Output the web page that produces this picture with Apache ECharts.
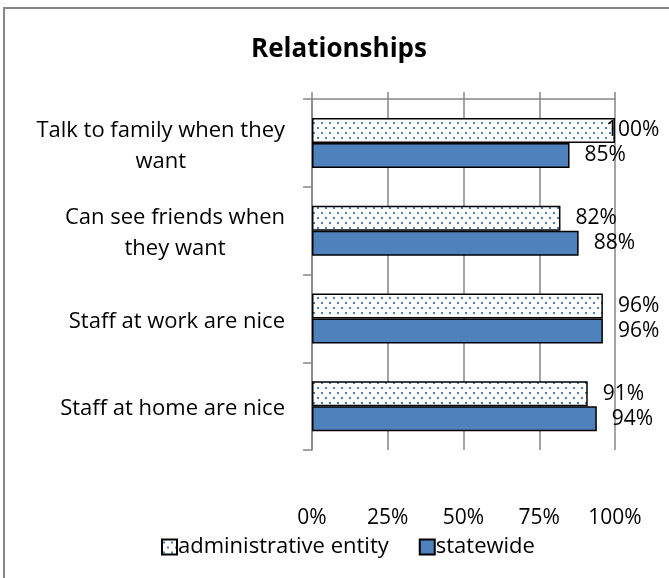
<!DOCTYPE html>
<html>
<head>
<meta charset="utf-8">
<script src="https://cdn.jsdelivr.net/npm/echarts@6/dist/echarts.min.js"></script>
<style>
html,body{margin:0;padding:0;background:#fff;}
#chart{width:669px;height:578px;}
</style>
</head>
<body>
<div id="chart"></div>
<script>
const title = 'Relationships';
const categories = ['Talk to family when they\nwant', 'Can see friends when\nthey want', 'Staff at work are nice', 'Staff at home are nice'];
const seriesNames = ['administrative entity', 'statewide'];
const adminValues = [100, 82, 96, 91];
const statewideValues = [85, 88, 96, 94];
const tickValues = [0, 25, 50, 75, 100];

const FONT = '"Open Sans", Lato, sans-serif';
const BLUE = '#4F81BD';

function makePattern() {
  const c = document.createElement('canvas');
  c.width = 8; c.height = 10;
  const g = c.getContext('2d');
  g.fillStyle = '#ffffff';
  g.fillRect(0, 0, 8, 10);
  g.fillStyle = BLUE;
  g.fillRect(1, 2, 2, 2);
  g.fillRect(5, 7, 2, 2);
  return c;
}
const pattern = { image: makePattern(), repeat: 'repeat' };

const chart = echarts.init(document.getElementById('chart'), null, { renderer: 'canvas' });

const labelBase = {
  show: true, position: 'right', distance: 15,
  fontFamily: FONT, fontSize: 21, color: '#000',
  formatter: p => p.value + '%'
};

const adminData = adminValues.map(v => v >= 100
  ? { value: v, label: { offset: [-24, 0] } }
  : v);

chart.setOption({
  animation: false,
  backgroundColor: '#fff',
  graphic: [{
    type: 'rect', shape: { x: 4, y: 8, width: 700, height: 600 },
    style: { fill: 'none', stroke: '#868686', lineWidth: 2 }, silent: true
  }],
  title: {
    text: title, left: 334, top: 32, textAlign: 'center',
    textStyle: { fontFamily: FONT, fontSize: 26, fontWeight: 'bold', color: '#000' }
  },
  legend: {
    top: 531, left: 156, itemWidth: 15, itemHeight: 15, itemGap: 30,
    icon: 'rect',
    textStyle: { fontFamily: FONT, fontSize: 22, color: '#000', padding: [0, 0, 0, -4] },
    data: seriesNames
  },
  grid: { left: 312, right: 54, top: 99, bottom: 128 },
  xAxis: [{
    type: 'value', position: 'top', min: 0, max: 100, interval: 25,
    axisLine: { show: true, lineStyle: { color: '#868686', width: 1.5 } },
    axisTick: { show: true, length: 7, lineStyle: { color: '#868686', width: 1.5 } },
    axisLabel: { show: false },
    splitLine: { show: true, lineStyle: { color: '#868686', width: 1.5 } }
  }, {
    type: 'value', position: 'bottom', min: 0, max: 100, interval: 25,
    axisLine: { show: false }, axisTick: { show: false },
    splitLine: { show: false },
    axisLabel: { show: true, margin: 58, fontFamily: FONT, fontSize: 21, color: '#000',
      formatter: v => tickValues.includes(v) ? v + '%' : '' }
  }],
  yAxis: {
    type: 'category', inverse: true, data: categories,
    axisLine: { show: true, lineStyle: { color: '#868686', width: 1.5 } },
    axisTick: { show: true, length: 9, lineStyle: { color: '#868686', width: 1.5 } },
    axisLabel: {
      margin: 27, align: 'right', padding: [6, 0, 0, 0],
      formatter: v => v.split('\n').map(s => '{c|' + s + '}').join('\n'),
      rich: { c: { align: 'center', fontFamily: FONT, fontSize: 22, color: '#000', lineHeight: 31 } }
    }
  },
  series: [{
    name: seriesNames[0], type: 'bar', xAxisIndex: 0, data: adminData,
    barWidth: 25, barGap: '0%',
    itemStyle: { color: pattern, borderColor: '#000', borderWidth: 1.5 },
    label: labelBase
  }, {
    name: seriesNames[1], type: 'bar', xAxisIndex: 0, data: statewideValues,
    barWidth: 25, barGap: '0%',
    itemStyle: { color: BLUE, borderColor: '#000', borderWidth: 1.5 },
    label: labelBase
  }]
});
</script>
</body>
</html>
